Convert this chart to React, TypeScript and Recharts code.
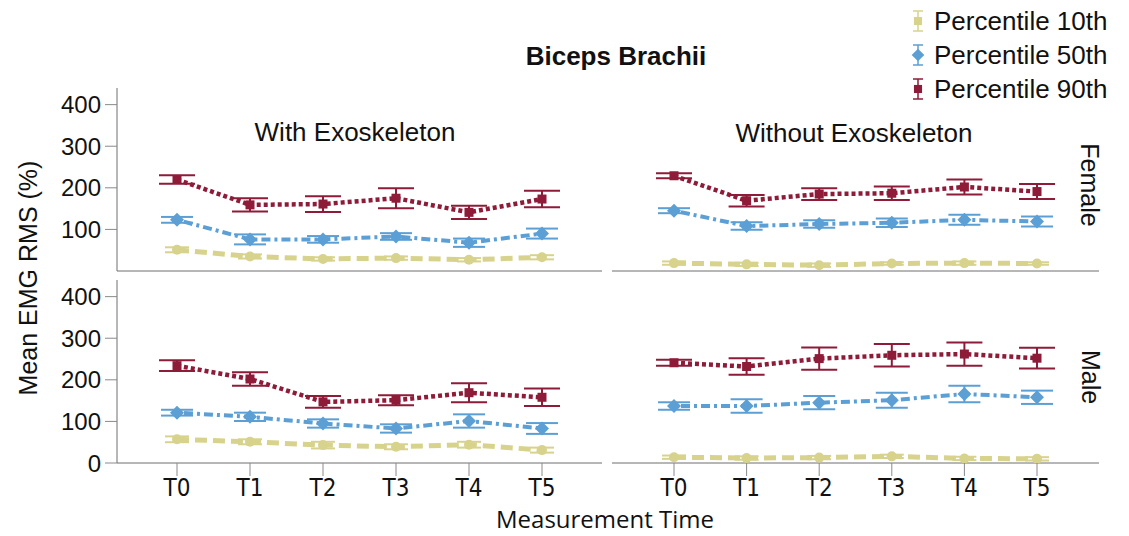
import React from 'react';
import { LineChart, Line, XAxis, YAxis, ErrorBar } from 'recharts';

// measurement times
const times = ['T0', 'T1', 'T2', 'T3', 'T4', 'T5'];

// Female, with exoskeleton
const femWith10 = [51, 35, 29, 31, 27, 33];
const femWith10Err = [6, 5, 4, 4, 4, 5];
const femWith50 = [123, 76, 76, 83, 68, 90];
const femWith50Err = [7, 12, 8, 8, 10, 12];
const femWith90 = [220, 159, 161, 175, 141, 173];
const femWith90Err = [10, 16, 19, 24, 16, 20];

// Female, without exoskeleton
const femWithout10 = [19, 16, 14, 18, 19, 18];
const femWithout10Err = [4, 4, 4, 3, 4, 3];
const femWithout50 = [145, 108, 113, 116, 123, 119];
const femWithout50Err = [6, 9, 9, 10, 12, 12];
const femWithout90 = [229, 169, 185, 187, 202, 191];
const femWithout90Err = [6, 14, 14, 16, 18, 18];

// Male, with exoskeleton
const maleWith10 = [57, 51, 43, 39, 44, 31];
const maleWith10Err = [7, 6, 8, 6, 7, 6];
const maleWith50 = [121, 111, 95, 83, 101, 83];
const maleWith50Err = [7, 10, 10, 10, 16, 13];
const maleWith90 = [234, 202, 147, 151, 169, 158];
const maleWith90Err = [13, 16, 14, 12, 23, 21];

// Male, without exoskeleton
const maleWithout10 = [14, 12, 13, 16, 11, 10];
const maleWithout10Err = [4, 4, 4, 4, 4, 4];
const maleWithout50 = [137, 137, 145, 151, 166, 158];
const maleWithout50Err = [9, 16, 16, 18, 20, 16];
const maleWithout90 = [241, 232, 251, 259, 262, 252];
const maleWithout90Err = [7, 20, 27, 27, 28, 25];

const yTicks = [0, 100, 200, 300, 400];

const series = [
  { key: 'p10', name: 'Percentile 10th', color: '#d8d38c', dash: '12 6', width: 5, shape: 'circle', legendShape: 'square', cap: 12 },
  { key: 'p50', name: 'Percentile 50th', color: '#5b9fd5', dash: '3 4 9 4', width: 4, shape: 'diamond', legendShape: 'diamond', cap: 16 },
  { key: 'p90', name: 'Percentile 90th', color: '#8e1b38', dash: '4 3', width: 4.5, shape: 'square', legendShape: 'square', cap: 18 },
];

const buildRows = (
  p10: number[], p10e: number[], p50: number[], p50e: number[], p90: number[], p90e: number[]
) =>
  times.map((t, i) => ({
    t,
    p10: p10[i], p10e: p10e[i],
    p50: p50[i], p50e: p50e[i],
    p90: p90[i], p90e: p90e[i],
  }));

const rowsFemWith = buildRows(femWith10, femWith10Err, femWith50, femWith50Err, femWith90, femWith90Err);
const rowsFemWithout = buildRows(femWithout10, femWithout10Err, femWithout50, femWithout50Err, femWithout90, femWithout90Err);
const rowsMaleWith = buildRows(maleWith10, maleWith10Err, maleWith50, maleWith50Err, maleWith90, maleWith90Err);
const rowsMaleWithout = buildRows(maleWithout10, maleWithout10Err, maleWithout50, maleWithout50Err, maleWithout90, maleWithout90Err);

const ARIAL = '"Liberation Sans", Arial, sans-serif';
const OPEN = '"Open Sans", "Liberation Sans", sans-serif';
const NARROW = '"Liberation Sans Narrow", "DejaVu Sans Condensed", sans-serif';

const Marker = ({ shape, cx, cy, color, size = 1 }: any) => {
  if (cx == null || cy == null) return null;
  if (shape === 'square') {
    const h = 4.5 * size;
    return <rect x={cx - h} y={cy - h} width={2 * h} height={2 * h} fill={color} />;
  }
  if (shape === 'diamond') {
    const h = 7 * size;
    return <polygon points={`${cx},${cy - h} ${cx + h},${cy} ${cx},${cy + h} ${cx - h},${cy}`} fill={color} />;
  }
  return <circle cx={cx} cy={cy} r={5 * size} fill={color} />;
};

const Panel = ({ rows, left, top, showX, showY }: any) => {
  const plotLeft = showY ? 0 : 12;
  const pad = showY ? 60 : 62;
  const width = showY ? 604 : 501;
  const xHeight = showX ? 60 : 2;
  return (
    <div style={{ position: 'absolute', left, top }}>
      <LineChart
        width={width}
        height={8 + 183 + xHeight}
        data={rows}
        margin={{ top: 8, right: 2, bottom: 0, left: plotLeft }}
      >
        <XAxis
          dataKey="t"
          interval={0}
          padding={{ left: pad, right: pad }}
          height={xHeight}
          axisLine={{ stroke: '#6e6e6e' }}
          tick={showX ? { fill: '#111', fontSize: 24, fontFamily: NARROW } : false}
          tickLine={showX ? { stroke: '#8a8a8a' } : false}
          tickSize={13}
          tickMargin={3}
        />
        <YAxis
          domain={[0, 440]}
          ticks={yTicks}
          allowDataOverflow
          width={showY ? 117 : 0}
          axisLine={{ stroke: '#6e6e6e' }}
          tick={showY ? { fill: '#111', fontSize: 24, fontFamily: ARIAL } : false}
          tickLine={showY ? { stroke: '#8a8a8a' } : false}
          tickSize={12}
          tickMargin={4}
        />
        {series.map((s) => (
          <Line
            key={s.key}
            dataKey={s.key}
            name={s.name}
            type="linear"
            stroke={s.color}
            strokeWidth={s.width}
            strokeDasharray={s.dash}
            isAnimationActive={false}
            dot={(p: any) => <Marker key={`${s.key}-${p.index}`} shape={s.shape} cx={p.cx} cy={p.cy} color={s.color} />}
            activeDot={false}
          >
            <ErrorBar dataKey={`${s.key}e`} width={s.cap} stroke={s.color} strokeWidth={2} direction="y" />
          </Line>
        ))}
      </LineChart>
    </div>
  );
};

const LegendIcon = ({ shape, x, y, color }: any) => (
  <g>
    <line x1={x} x2={x} y1={y - 10} y2={y + 10} stroke={color} strokeWidth={1.5} />
    <line x1={x - 5} x2={x + 5} y1={y - 10} y2={y - 10} stroke={color} strokeWidth={1.5} />
    <line x1={x - 5} x2={x + 5} y1={y + 10} y2={y + 10} stroke={color} strokeWidth={1.5} />
    <Marker shape={shape} cx={x} cy={y} color={color} size={0.9} />
  </g>
);

export default function App() {
  const legendBaselines = [30, 64, 98];
  return (
    <div style={{ position: 'absolute', left: 0, top: 0, width: 1129, height: 536, background: '#fff', overflow: 'hidden' }}>
      <Panel rows={rowsFemWith} left={0} top={80} showX={false} showY />
      <Panel rows={rowsFemWithout} left={600} top={80} showX={false} showY={false} />
      <Panel rows={rowsMaleWith} left={0} top={272} showX showY />
      <Panel rows={rowsMaleWithout} left={600} top={272} showX showY={false} />
      <svg
        width={1129}
        height={536}
        style={{ position: 'absolute', left: 0, top: 0, pointerEvents: 'none' }}
      >
        <text x={616} y={65} textAnchor="middle" fontFamily={ARIAL} fontWeight="bold" fontSize={26} fill="#111">
          Biceps Brachii
        </text>
        <text x={355} y={141} textAnchor="middle" fontFamily={ARIAL} fontSize={26} fill="#111">
          With Exoskeleton
        </text>
        <text x={854} y={142} textAnchor="middle" fontFamily={ARIAL} fontSize={26} fill="#111">
          Without Exoskeleton
        </text>
        <text
          x={1090}
          y={185}
          textAnchor="middle"
          dominantBaseline="central"
          transform="rotate(90 1090 185)"
          fontFamily={ARIAL}
          fontSize={25}
          fill="#111"
        >
          Female
        </text>
        <text
          x={1091}
          y={377}
          textAnchor="middle"
          dominantBaseline="central"
          transform="rotate(90 1091 377)"
          fontFamily={ARIAL}
          fontSize={25}
          fill="#111"
        >
          Male
        </text>
        <text
          x={28}
          y={278}
          textAnchor="middle"
          dominantBaseline="central"
          transform="rotate(-90 28 278)"
          fontFamily={ARIAL}
          fontSize={25}
          fill="#111"
        >
          Mean EMG RMS (%)
        </text>
        <text x={605} y={528} textAnchor="middle" fontFamily={OPEN} fontSize={24} fill="#111">
          Measurement Time
        </text>
        {series.map((s, i) => (
          <g key={s.key}>
            <LegendIcon shape={s.legendShape} x={918} y={legendBaselines[i] - 9} color={s.color} />
            <text x={934} y={legendBaselines[i]} fontFamily={ARIAL} fontSize={26} fill="#111">
              {s.name}
            </text>
          </g>
        ))}
      </svg>
    </div>
  );
}
